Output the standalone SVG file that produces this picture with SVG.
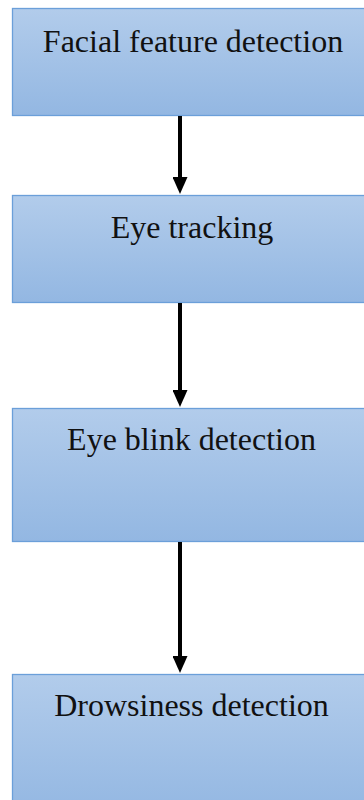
<svg xmlns="http://www.w3.org/2000/svg" width="364" height="800" viewBox="0 0 364 800">
<defs>
<linearGradient id="g" x1="0" y1="0" x2="0" y2="1">
<stop offset="0" stop-color="#b2cceb"/>
<stop offset="1" stop-color="#93b7e2"/>
</linearGradient>
<marker id="ah" markerWidth="17" markerHeight="15" refX="7" refY="7.5" orient="auto" markerUnits="userSpaceOnUse" viewBox="0 0 17 15">
<path d="M0,0 L17,7.5 L0,15 Z" fill="#000"/>
</marker>
</defs>
<style>
.box{fill:url(#g);stroke:#6b9fd9;stroke-width:1.3}
.lbl{font-family:"Liberation Serif","Times New Roman",serif;font-size:32px;fill:#111;text-anchor:middle}
.con{stroke:#000;stroke-width:4;fill:none}
</style>
<rect width="364" height="800" fill="#fff"/>
<g id="n1"><rect class="box" x="12.5" y="8.5" width="360" height="107"/><text class="lbl" x="193" y="51.5">Facial feature detection</text></g>
<g id="n2"><rect class="box" x="12.5" y="195.5" width="360" height="107"/><text class="lbl" x="192" y="237.5">Eye tracking</text></g>
<g id="n3"><rect class="box" x="12.5" y="408.5" width="360" height="133"/><text class="lbl" x="191.5" y="450">Eye blink detection</text></g>
<g id="n4"><rect class="box" x="12.5" y="674.5" width="360" height="140"/><text class="lbl" x="191.5" y="716">Drowsiness detection</text></g>
<g id="connectors">
<path class="con" d="M180,116 V184" marker-end="url(#ah)"/>
<path class="con" d="M180,303 V397" marker-end="url(#ah)"/>
<path class="con" d="M180,542 V663" marker-end="url(#ah)"/>
</g>
</svg>
